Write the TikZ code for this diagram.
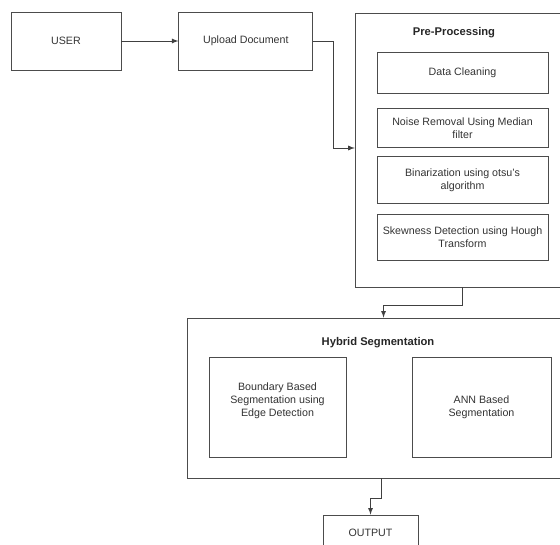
\documentclass[tikz,border=0pt]{standalone}
\usepackage{fontspec}
\setmainfont{Liberation Sans}
\usetikzlibrary{positioning, arrows}

\begin{document}
\begin{tikzpicture}[
              x = 0.75pt, y = -0.75pt,
              > = latex,
           font = \fontsize{8}{9.6}\selectfont,
      box/.style = {rectangle, draw=black!70, line width=0.6pt, text=black!80,
                    align=center, inner sep=1pt},
    title/.style = {font=\fontsize{8.4}{10}\selectfont\bfseries, text=black!85},
     conn/.style = {->, draw=black!75, line width=0.7pt}
                        ]
\clip[use as bounding box] (0,0) rectangle (560,545);
% top row
\node (user)  [box, minimum width=82.5pt, minimum height=43.5pt] at (66,41) {USER};
\node (upload)[box, minimum width=100.5pt, minimum height=43.5pt,
               right=42.75pt of user] {Upload Document};
% pre-processing block
\node (pre)   [box, minimum width=155pt, minimum height=205.5pt] at (458.5,150) {};
\node (pretitle)[title] at (454,33) {Pre-Processing};
\node (clean) [box, minimum width=128.25pt, minimum height=30.75pt] at (462.5,72.5) {Data Cleaning};
\node (noise) [box, minimum width=128.25pt, minimum height=29.25pt,
               below=11.25pt of clean] {Noise Removal Using Median\\filter};
\node (binar) [box, minimum width=128.25pt, minimum height=35.25pt,
               below=6pt of noise] {Binarization using otsu's\\algorithm};
\node (skew)  [box, minimum width=128.25pt, minimum height=34.5pt,
               below=7.5pt of binar] {Skewness Detection using Hough\\Transform};
% hybrid segmentation block
\node (hybrid)[box, minimum width=280pt, minimum height=120pt] at (374.5,398) {};
\node (hybtitle)[title] at (378,343) {Hybrid Segmentation};
\node (bound) [box, minimum width=102.75pt, minimum height=75pt] at (277.5,407)
              {Boundary Based\\Segmentation using\\Edge Detection\\[1.5pt]};
\node (ann)   [box, minimum width=104.25pt, minimum height=75pt] at (481.5,407)
              {ANN Based\\Segmentation};
% output
\node (output)[box, minimum width=71.25pt, minimum height=26.25pt] at (370.5,532.5) {OUTPUT};
% connectors
\coordinate (b1) at (333,148);
\coordinate (b2) at (462,305);
\coordinate (b3) at (381,498);
\draw[conn] (user) to (upload);
\draw[conn] (upload.east) -| (b1) -- (pre.west |- b1);
\draw[conn] (pre.south -| b2) -- (b2) -| ([xshift=6.75pt]hybrid.north);
\draw[conn] (hybrid.south -| b3) -- (b3) -| (output.north);
\end{tikzpicture}
\end{document}
